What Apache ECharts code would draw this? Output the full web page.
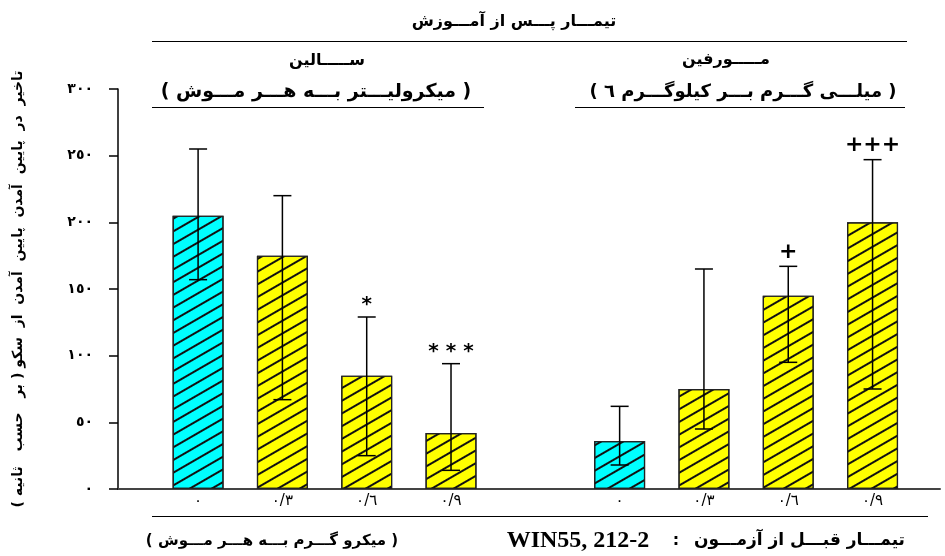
<!DOCTYPE html>
<html>
<head>
<meta charset="utf-8">
<script src="https://cdn.jsdelivr.net/npm/echarts@6/dist/echarts.min.js"></script>
<style>html,body{margin:0;padding:0;background:#fff}#c{width:945px;height:556px}</style>
</head>
<body>
<div id="c"></div>
<script>
// ---- data ----
const xPositions = [1, 2, 3, 4, 6, 7, 8, 9];
const xLabels = ['٠', '٠/٣', '٠/٦', '٠/٩', '٠', '٠/٣', '٠/٦', '٠/٩'];
const means = [205, 175, 85, 42, 36, 75, 145, 200];
const errUpper = [255, 220, 129, 94, 62, 165, 167, 247];
const errLower = [157, 67, 25, 14, 18, 45, 95, 75];
const marks = ['', '', '*', '* * *', '', '', '+', '+++'];
const isControl = [true, false, false, false, true, false, false, false];

const titleText = 'تیمـــار پـــس از آمـــوزش';
const group1Name = 'ســـــالین';
const group1Unit = '( میکرولیـــتر بـــه هـــر مـــوش )';
const group2Name = 'مـــــورفین';
const group2Unit = '( میلـــی گـــرم بـــر کیلوگـــرم ٦ )';
const yName = 'تاخیر  در  پایین  آمدن  پایین  آمدن  از  سکو ( بر   حسب   ثانیه )\u200F';
const xNameRight = 'تیمـــار قبـــل از آزمـــون';
const xNameDrug = 'WIN55, 212-2';
const xNameUnit = '( میکرو گـــرم بـــه هـــر مـــوش )';

const toArabicDigits = s => String(s).replace(/[0-9]/g, d => '٠١٢٣٤٥٦٧٨٩'[+d]);
const labelMap = {};
xPositions.forEach((p, i) => labelMap[p] = xLabels[i]);

const AR = '"DejaVu Sans", sans-serif';
const CYAN = '#00FFFF', YELLOW = '#FFFF00';

const chart = echarts.init(document.getElementById('c'), null, {renderer: 'canvas'});

const barData = xPositions.map((p, i) => ({
  value: [p, means[i]],
  itemStyle: {color: isControl[i] ? CYAN : YELLOW}
}));
const errData = xPositions.map((p, i) => [p, errUpper[i], errLower[i], i]);

const F = (size, fam) => 'bold ' + size + 'px ' + (fam || '"DejaVu Sans"');

chart.setOption({
  animation: false,
  backgroundColor: '#fff',
  grid: {left: 118, right: 5, top: 89, bottom: 67, containLabel: false},
  xAxis: {
    type: 'value', min: 0.05, max: 9.8,
    axisLine: {show: true, lineStyle: {color: '#444', width: 2}},
    axisTick: {show: false},
    splitLine: {show: false},
    axisLabel: {
      customValues: xPositions,
      formatter: v => labelMap[v] || '',
      color: '#000', fontFamily: AR, fontSize: 15, margin: 5
    }
  },
  yAxis: {
    type: 'value', min: 0, max: 300, interval: 50,
    name: yName, nameLocation: 'middle', nameRotate: 90, nameGap: 93,
    nameTextStyle: {fontFamily: AR, fontSize: 14, fontWeight: 'bold', color: '#000'},
    axisLine: {show: true, lineStyle: {color: '#000', width: 1.5}},
    axisTick: {show: true, inside: false, length: 9, lineStyle: {color: '#000', width: 1.5}},
    splitLine: {show: false},
    axisLabel: {formatter: v => toArabicDigits(v), color: '#000', fontFamily: AR, fontSize: 14, fontWeight: 'bold', margin: 25}
  },
  series: [
    {
      type: 'bar', data: barData, barWidth: 51, z: 2,
      itemStyle: {
        borderColor: '#222', borderWidth: 1.2,
        decal: {symbol: 'rect', symbolSize: 1, dashArrayX: [1, 0], dashArrayY: [1.1, 8.6], rotation: -Math.PI / 6, color: '#111'}
      }
    },
    {
      type: 'custom', z: 5, data: errData,
      renderItem: function (params, api) {
        const x = api.value(0), hi = api.value(1), lo = api.value(2), idx = api.value(3);
        const pHi = api.coord([x, hi]), pLo = api.coord([x, lo]);
        const hw = 9;
        const st = {stroke: '#000', lineWidth: 1.5};
        const children = [
          {type: 'line', shape: {x1: pHi[0], y1: pHi[1], x2: pLo[0], y2: pLo[1]}, style: st},
          {type: 'line', shape: {x1: pHi[0] - hw, y1: pHi[1], x2: pHi[0] + hw, y2: pHi[1]}, style: st},
          {type: 'line', shape: {x1: pLo[0] - hw, y1: pLo[1], x2: pLo[0] + hw, y2: pLo[1]}, style: st}
        ];
        const m = marks[idx];
        if (m) {
          const isStar = m[0] === '*';
          children.push({
            type: 'text',
            style: {
              text: m, x: pHi[0], y: pHi[1] - (isStar ? 12 : 14),
              align: 'center', verticalAlign: 'middle',
              font: F(isStar ? 20 : 22), fill: '#000'
            }
          });
        }
        return {type: 'group', children: children};
      }
    }
  ],
  graphic: [
    {type: 'text', style: {text: titleText, x: 514, y: 22, align: 'center', verticalAlign: 'middle', font: F(16), fill: '#000'}},
    {type: 'line', shape: {x1: 152, y1: 41.5, x2: 907, y2: 41.5}, style: {stroke: '#000', lineWidth: 1.2}},
    {type: 'text', style: {text: group1Name, x: 327, y: 61, align: 'center', verticalAlign: 'middle', font: F(16), fill: '#000'}},
    {type: 'text', style: {text: group1Unit, x: 316, y: 92, align: 'center', verticalAlign: 'middle', font: F(19), fill: '#000'}},
    {type: 'line', shape: {x1: 152, y1: 107.5, x2: 484, y2: 107.5}, style: {stroke: '#000', lineWidth: 1.2}},
    {type: 'text', style: {text: group2Name, x: 726, y: 60, align: 'center', verticalAlign: 'middle', font: F(16), fill: '#000'}},
    {type: 'text', style: {text: group2Unit, x: 743, y: 92, align: 'center', verticalAlign: 'middle', font: F(18), fill: '#000'}},
    {type: 'line', shape: {x1: 575, y1: 107.5, x2: 905, y2: 107.5}, style: {stroke: '#000', lineWidth: 1.2}},
    {type: 'line', shape: {x1: 152, y1: 516.5, x2: 928, y2: 516.5}, style: {stroke: '#000', lineWidth: 1.2}},
    {type: 'text', style: {text: xNameUnit, x: 272, y: 541, align: 'center', verticalAlign: 'middle', font: F(15), fill: '#000'}},
    {type: 'text', style: {text: xNameDrug, x: 578, y: 541, align: 'center', verticalAlign: 'middle', font: F(24, '"Liberation Serif"'), fill: '#000'}},
    {type: 'text', style: {text: ':', x: 676, y: 541, align: 'center', verticalAlign: 'middle', font: F(16), fill: '#000'}},
    {type: 'text', style: {text: xNameRight, x: 905, y: 541, align: 'right', verticalAlign: 'middle', font: F(17), fill: '#000'}}
  ]
});
</script>
</body>
</html>
